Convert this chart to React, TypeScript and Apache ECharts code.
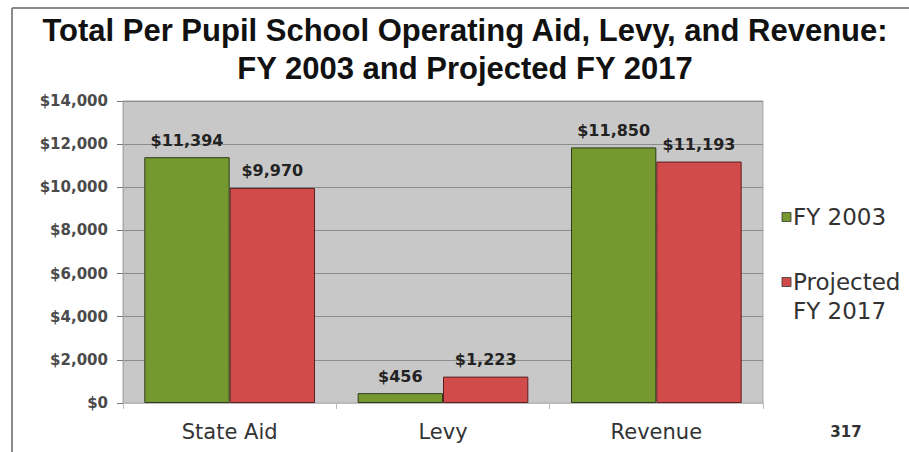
import React, { useEffect, useRef } from "react";
import * as echarts from "echarts";

const categories = ["State Aid", "Levy", "Revenue"];
const fy2003 = [11394, 456, 11850];
const fy2017 = [9970, 1223, 11193];
const seriesNames = ["FY 2003", "Projected FY 2017"];
const legendLines = [["FY 2003"], ["Projected", "FY 2017"]];
const seriesColors = ["#76992f", "#d24b4b"];
const titleLines = [
  "Total Per Pupil School Operating Aid, Levy, and Revenue:",
  "FY 2003 and Projected FY 2017",
];
const pageNumber = "317";

const fmt = (v: number) => "$" + v.toLocaleString("en-US");
const DJ = "DejaVu Sans, Liberation Sans, sans-serif";
const LIB = "Liberation Sans, Arial, sans-serif";

export default function App() {
  const ref = useRef<HTMLDivElement>(null);
  useEffect(() => {
    if (!ref.current) return;
    const chart = echarts.init(ref.current, null, { renderer: "svg" });
    const labelStyle = {
      show: true,
      position: "top" as const,
      distance: 9,
      formatter: (p: any) => fmt(p.value),
      fontFamily: DJ,
      fontWeight: "bold" as const,
      fontSize: 16,
      color: "#222",
    };
    const legendGraphics: any[] = [];
    const legendTops = [217, 282];
    legendLines.forEach((lines, i) => {
      legendGraphics.push({
        type: "rect",
        shape: { x: 782, y: legendTops[i] - 4.5, width: 9, height: 9 },
        style: { fill: seriesColors[i], stroke: "#333", lineWidth: 0.8 },
      });
      lines.forEach((t, j) => {
        legendGraphics.push({
          type: "text",
          x: 793,
          y: legendTops[i] + j * 29,
          style: {
            text: t,
            fontSize: 23,
            fontFamily: DJ,
            fill: "#333",
            align: "left",
            verticalAlign: "middle",
          },
        });
      });
    });
    chart.setOption({
      animation: false,
      backgroundColor: "#ffffff",
      textStyle: { fontFamily: DJ },
      grid: {
        left: 123,
        right: 146,
        top: 101,
        bottom: 49,
        show: true,
        backgroundColor: "#c8c8c8",
        borderColor: "#a8a8a8",
        borderWidth: 1,
      },
      legend: { show: false, data: seriesNames },
      xAxis: {
        type: "category",
        data: categories,
        axisLine: { show: true, lineStyle: { color: "#bbbbbb" } },
        axisTick: { show: true, length: 6, lineStyle: { color: "#bbbbbb" } },
        axisLabel: { fontSize: 21, fontFamily: DJ, color: "#333", margin: 18 },
      },
      yAxis: {
        type: "value",
        min: 0,
        max: 14000,
        interval: 2000,
        axisLine: { show: true, lineStyle: { color: "#aaaaaa" } },
        axisTick: { show: true, length: 6, lineStyle: { color: "#777" } },
        axisLabel: {
          fontSize: 15,
          fontFamily: DJ,
          fontWeight: "bold",
          color: "#4a4a4a",
          margin: 15,
          formatter: (v: number) => fmt(v),
        },
        splitLine: { show: true, lineStyle: { color: "#8c8c8c", width: 1 } },
      },
      series: [
        {
          name: seriesNames[0],
          type: "bar",
          data: fy2003,
          barGap: "0%",
          barCategoryGap: "20%",
          itemStyle: { color: seriesColors[0], borderColor: "#2e3a1a", borderWidth: 1 },
          label: labelStyle,
        },
        {
          name: seriesNames[1],
          type: "bar",
          data: fy2017,
          itemStyle: { color: seriesColors[1], borderColor: "#5a2020", borderWidth: 1 },
          label: labelStyle,
        },
      ],
      graphic: [
        {
          type: "line",
          shape: { x1: 12, y1: 8, x2: 909, y2: 8 },
          style: { stroke: "#8a8a8a", lineWidth: 2 },
        },
        {
          type: "line",
          shape: { x1: 12, y1: 8, x2: 12, y2: 452 },
          style: { stroke: "#8a8a8a", lineWidth: 2 },
        },
        {
          type: "text",
          x: 465,
          y: 30,
          style: {
            text: titleLines[0],
            fontSize: 31,
            fontWeight: "bold",
            fontFamily: LIB,
            fill: "#111",
            align: "center",
            verticalAlign: "middle",
          },
        },
        {
          type: "text",
          x: 465,
          y: 68,
          style: {
            text: titleLines[1],
            fontSize: 31,
            fontWeight: "bold",
            fontFamily: LIB,
            fill: "#111",
            align: "center",
            verticalAlign: "middle",
          },
        },
        {
          type: "text",
          x: 846,
          y: 432,
          style: {
            text: pageNumber,
            fontSize: 15,
            fontWeight: "bold",
            fontFamily: DJ,
            fill: "#333",
            align: "center",
            verticalAlign: "middle",
          },
        },
        ...legendGraphics,
      ],
    });
    return () => chart.dispose();
  }, []);
  return <div ref={ref} style={{ width: 909, height: 452, position: "absolute", left: 0, top: 0 }} />;
}
